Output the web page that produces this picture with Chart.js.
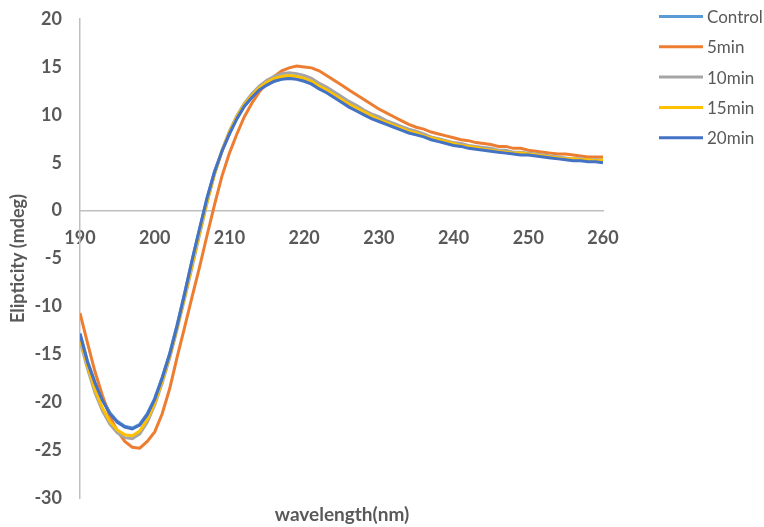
<!DOCTYPE html>
<html>
<head>
<meta charset="utf-8">
<script src="https://cdn.jsdelivr.net/npm/chart.js@4.4.1/dist/chart.umd.min.js"></script>
<style>
  html, body { margin: 0; padding: 0; background: #fff; }
  #wrap { width: 764px; height: 527px; position: relative; }
</style>
</head>
<body>
<div id="wrap"><canvas id="cd"></canvas></div>
<script>
const wavelength = [
    190, 191, 192, 193, 194, 195, 196, 197, 198, 199,
    200, 201, 202, 203, 204, 205, 206, 207, 208, 209,
    210, 211, 212, 213, 214, 215, 216, 217, 218, 219,
    220, 221, 222, 223, 224, 225, 226, 227, 228, 229,
    230, 231, 232, 233, 234, 235, 236, 237, 238, 239,
    240, 241, 242, 243, 244, 245, 246, 247, 248, 249,
    250, 251, 252, 253, 254, 255, 256, 257, 258, 259,
    260
];
const seriesNames = ['Control', '5min', '10min', '15min', '20min'];
const xTicks = [190, 200, 210, 220, 230, 240, 250, 260];
const yTicks = [-30, -25, -20, -15, -10, -5, 0, 5, 10, 15, 20];

const control = [
    -12.8, -15.7, -17.9, -19.7, -21.1, -22.0, -22.5, -22.7, -22.3, -21.2,
    -19.6, -17.4, -14.9, -11.9, -8.6, -5.2, -1.9, 1.3, 4.1, 6.2,
    8.0, 9.6, 10.9, 11.8, 12.6, 13.1, 13.5, 13.8, 13.9, 13.8,
    13.6, 13.3, 12.8, 12.4, 11.9, 11.4, 10.9, 10.5, 10.1, 9.7,
    9.4, 9.1, 8.8, 8.5, 8.2, 8.0, 7.8, 7.5, 7.3, 7.1,
    6.9, 6.8, 6.6, 6.5, 6.4, 6.3, 6.2, 6.1, 6.0, 5.9,
    5.9, 5.8, 5.7, 5.6, 5.5, 5.4, 5.3, 5.3, 5.2, 5.2,
    5.1
];
const min5 = [
    -10.7, -13.8, -16.8, -19.3, -21.5, -23.0, -24.1, -24.7, -24.8, -24.1,
    -23.1, -21.2, -18.6, -15.3, -12.2, -9.0, -5.9, -2.6, 0.6, 3.6,
    6.0, 8.0, 9.8, 11.2, 12.4, 13.3, 14.0, 14.6, 14.9, 15.1,
    15.0, 14.9, 14.6, 14.1, 13.6, 13.1, 12.6, 12.1, 11.6, 11.1,
    10.6, 10.2, 9.8, 9.4, 9.0, 8.7, 8.5, 8.2, 8.0, 7.8,
    7.6, 7.4, 7.3, 7.1, 7.0, 6.9, 6.7, 6.7, 6.5, 6.5,
    6.3, 6.2, 6.1, 6.0, 5.9, 5.9, 5.8, 5.7, 5.6, 5.6,
    5.6
];
const min10 = [
    -13.6, -16.5, -19.0, -20.9, -22.3, -23.2, -23.7, -23.8, -23.3, -22.1,
    -20.3, -18.0, -15.4, -12.4, -9.2, -5.9, -2.5, 0.8, 3.8, 6.3,
    8.3, 9.9, 11.2, 12.2, 13.0, 13.6, 14.0, 14.3, 14.4, 14.3,
    14.1, 13.8, 13.3, 12.9, 12.4, 11.9, 11.4, 11.0, 10.5, 10.1,
    9.8, 9.4, 9.1, 8.8, 8.5, 8.3, 8.0, 7.7, 7.5, 7.3,
    7.1, 7.0, 6.8, 6.7, 6.6, 6.5, 6.3, 6.3, 6.1, 6.1,
    6.0, 5.9, 5.8, 5.7, 5.6, 5.5, 5.4, 5.4, 5.3, 5.3,
    5.3
];
const min15 = [
    -13.3, -16.2, -18.7, -20.6, -22.0, -22.9, -23.4, -23.5, -23.0, -21.8,
    -20.1, -17.8, -15.2, -12.2, -9.0, -5.7, -2.3, 0.9, 3.8, 6.2,
    8.2, 9.8, 11.1, 12.0, 12.8, 13.4, 13.8, 14.0, 14.1, 14.0,
    13.8, 13.5, 13.0, 12.6, 12.1, 11.6, 11.1, 10.7, 10.3, 9.9,
    9.5, 9.2, 8.9, 8.6, 8.3, 8.1, 7.8, 7.6, 7.4, 7.2,
    7.0, 6.8, 6.7, 6.6, 6.4, 6.3, 6.2, 6.1, 6.0, 6.0,
    5.9, 5.8, 5.7, 5.6, 5.5, 5.4, 5.4, 5.3, 5.3, 5.2,
    5.3
];
const min20 = [
    -12.9, -15.8, -18.0, -19.8, -21.2, -22.1, -22.6, -22.8, -22.4, -21.3,
    -19.7, -17.5, -15.0, -12.0, -8.7, -5.2, -1.9, 1.3, 4.0, 6.2,
    8.0, 9.6, 10.9, 11.8, 12.6, 13.1, 13.5, 13.7, 13.8, 13.7,
    13.5, 13.2, 12.7, 12.3, 11.8, 11.3, 10.8, 10.4, 10.0, 9.6,
    9.3, 9.0, 8.7, 8.4, 8.1, 7.9, 7.7, 7.4, 7.2, 7.0,
    6.8, 6.7, 6.5, 6.4, 6.3, 6.2, 6.1, 6.0, 5.9, 5.8,
    5.8, 5.7, 5.6, 5.5, 5.4, 5.3, 5.2, 5.2, 5.1, 5.1,
    5.0
];

const colors = ['#5B9BD5', '#ED7D31', '#A5A5A5', '#FFC000', '#4472C4'];
const allSeries = [control, min5, min10, min15, min20];
const textColor = '#595959';
const axisColor = '#BFBFBF';
const font = 'Lato, "Open Sans", sans-serif';

const datasets = allSeries.map((vals, i) => ({
    label: seriesNames[i],
    data: vals.map((v, j) => ({ x: wavelength[j], y: v })),
    borderColor: colors[i],
    backgroundColor: colors[i],
    borderWidth: 3,
    pointRadius: 0,
    tension: 0,
    order: allSeries.length - i // last series on top, like excel
}));

// titles + legend drawn by hand
const decor = {
    id: 'decor',
    afterDraw(chart) {
        const ctx = chart.ctx;
        const area = chart.chartArea;
        ctx.save();
        ctx.fillStyle = textColor;
        ctx.font = 'bold 19px ' + font;
        ctx.textAlign = 'center';
        ctx.textBaseline = 'middle';
        ctx.fillText('wavelength(nm)', 342, 515);

        ctx.font = 'bold 18px ' + font;
        ctx.translate(18, (area.top + area.bottom) / 2);
        ctx.rotate(-Math.PI / 2);
        ctx.fillText('Elipticity (mdeg)', 0, 0);
        ctx.restore();

        ctx.save();
        ctx.font = '17px ' + font;
        ctx.textAlign = 'left';
        ctx.textBaseline = 'middle';
        chart.data.datasets.forEach((ds, i) => {
            const y = 16.5 + i * 30.3;
            ctx.strokeStyle = ds.borderColor;
            ctx.lineWidth = 3;
            ctx.beginPath();
            ctx.moveTo(659, y);
            ctx.lineTo(703, y);
            ctx.stroke();
            ctx.fillStyle = textColor;
            ctx.fillText(ds.label, 707, y + 1);
        });
        ctx.restore();
    }
};

const config = {
    type: 'line',
    data: { datasets: datasets },
    options: {
        responsive: true,
        maintainAspectRatio: false,
        animation: false,
        layout: { padding: { left: 0, right: 161, top: 19, bottom: 29 } },
        plugins: {
            legend: { display: false },
            tooltip: { enabled: false }
        },
        scales: {
            x: {
                type: 'linear',
                position: { y: 0 },
                min: 190,
                max: 260,
                afterBuildTicks: (scale) => { scale.ticks = xTicks.map(v => ({ value: v })); },
                grid: { display: false, drawTicks: false },
                border: { display: true, color: axisColor, width: 1.5 },
                ticks: {
                    padding: 17,
                    color: textColor,
                    font: { family: font, size: 18, weight: 'bold' }
                }
            },
            y: {
                min: -30,
                max: 20,
                afterBuildTicks: (scale) => { scale.ticks = yTicks.map(v => ({ value: v })); },
                afterFit: (scale) => {
                    scale.width = 80;
                    // don't let label overflow push the plot area in
                    scale.paddingTop = 0;
                    scale.paddingBottom = 0;
                },
                grid: { display: false, drawTicks: false },
                border: { display: true, color: axisColor, width: 1.5 },
                ticks: {
                    padding: 18,
                    color: textColor,
                    font: { family: font, size: 18, weight: 'bold' }
                }
            }
        }
    },
    plugins: [decor]
};

const ctxCd = document.getElementById('cd').getContext('2d');
var chartCd = new Chart(ctxCd, config);
</script>
</body>
</html>
